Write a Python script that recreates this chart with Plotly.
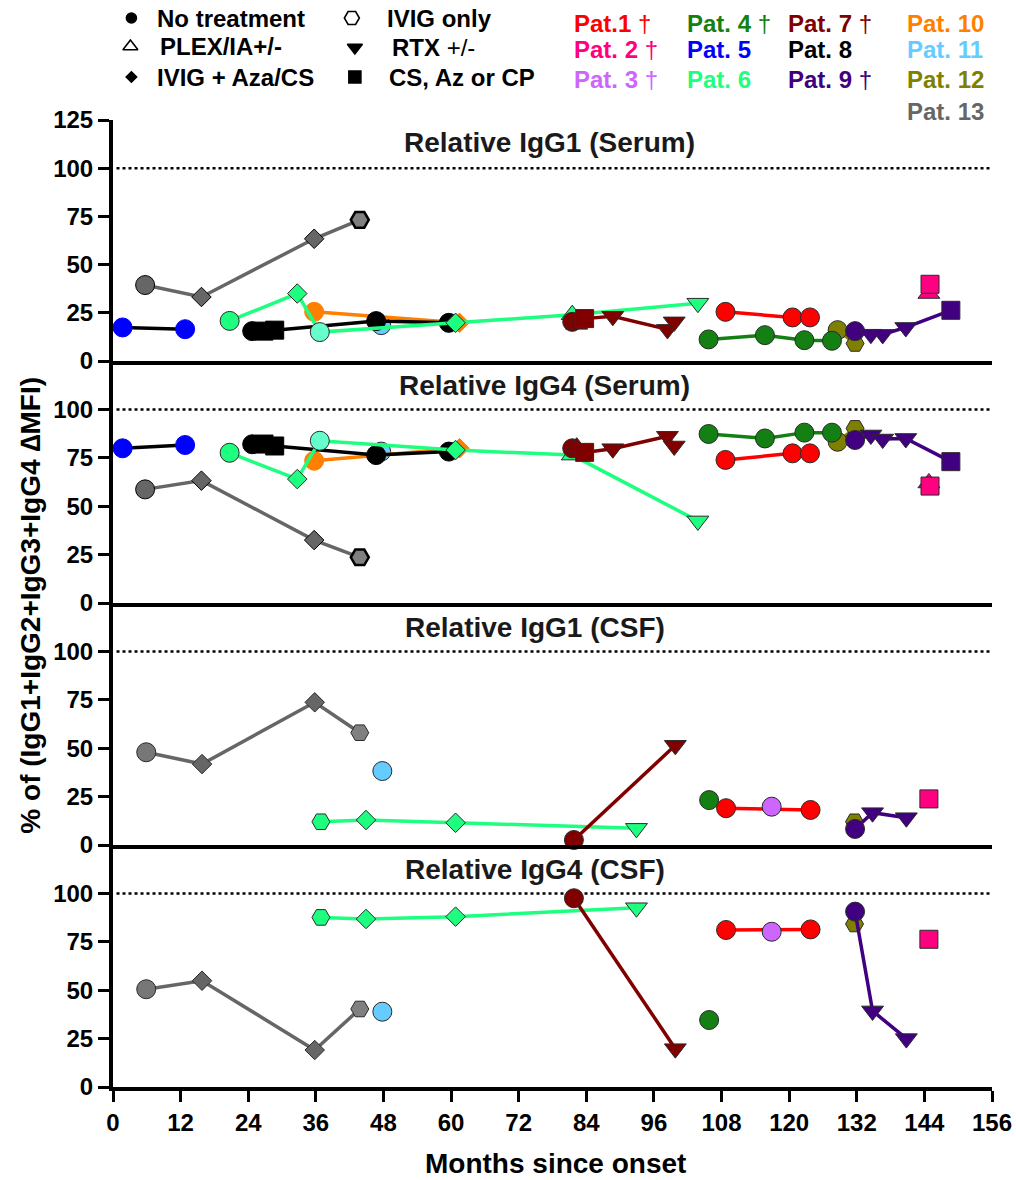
import plotly.graph_objects as go

# ---------------- data ----------------
X_TICKS = list(range(0, 157, 12))
Y_TICKS_TOP = [0, 25, 50, 75, 100, 125]
Y_TICKS = [0, 25, 50, 75, 100]
PANEL_TITLES = ["Relative IgG1 (Serum)", "Relative IgG4 (Serum)",
                "Relative IgG1 (CSF)", "Relative IgG4 (CSF)"]

PATIENT_IDS = [1, 2, 3, 4, 5, 6, 7, 8, 9, 10, 11, 12, 13]
PATIENT_NAMES = ["Pat.1", "Pat. 2", "Pat. 3", "Pat. 4", "Pat. 5", "Pat. 6", "Pat. 7",
                 "Pat. 8", "Pat. 9", "Pat. 10", "Pat. 11", "Pat. 12", "Pat. 13"]
PATIENT_DECEASED = [True, True, True, True, False, False, True, False, True,
                    False, False, False, False]
PATIENT_COLORS = ["#FF0000", "#FF0080", "#CC66FF", "#148014", "#0000FF", "#1EFF80",
                  "#800000", "#000000", "#400080", "#FF8000", "#66CCFF", "#808000",
                  "#666666"]

TREATMENTS = ["none", "plex", "ivig_aza", "ivig", "rtx", "cs"]
TREATMENT_LABELS = ["No treatment", "PLEX/IA+/-", "IVIG + Aza/CS", "IVIG only",
                    "<b>RTX</b> +/-", "CS, Az or CP"]

# serum samples (months since onset, treatment, %IgG1, %IgG4)
P1_SERUM_MONTHS = [108.7, 120.6, 123.7]
P1_SERUM_TX = ["none", "none", "none"]
P1_SERUM_IGG1 = [25.5, 22.6, 22.6]
P1_SERUM_IGG4 = [73.9, 77.3, 77.3]
P2_SERUM_MONTHS = [144.8, 145.0]
P2_SERUM_TX = ["plex", "cs"]
P2_SERUM_IGG1 = [35.0, 39.8]
P2_SERUM_IGG4 = [62.0, 60.4]
P4_SERUM_MONTHS = [105.7, 115.7, 122.7, 127.6]
P4_SERUM_TX = ["none", "none", "none", "none"]
P4_SERUM_IGG1 = [11.2, 13.4, 10.8, 10.5]
P4_SERUM_IGG4 = [87.3, 85.0, 88.0, 88.0]
P5_SERUM_MONTHS = [1.7, 12.8]
P5_SERUM_TX = ["none", "none"]
P5_SERUM_IGG1 = [17.4, 16.5]
P5_SERUM_IGG4 = [79.9, 81.6]
P6_SERUM_MONTHS = [20.7, 32.7, 36.7, 60.8, 81.5, 103.8]
P6_SERUM_TX = ["none", "ivig_aza", "none", "ivig_aza", "plex", "rtx"]
P6_SERUM_IGG1 = [20.8, 35.0, 15.0, 19.8, 24.0, 30.0]
P6_SERUM_IGG4 = [77.6, 64.0, 83.8, 79.0, 76.4, 42.4]
P7_SERUM_MONTHS = [81.5, 82.3, 83.7, 88.7, 98.4, 99.6]
P7_SERUM_TX = ["none", "plex", "cs", "rtx", "rtx", "rtx"]
P7_SERUM_IGG1 = [20.3, 19.0, 22.0, 23.2, 16.4, 20.3]
P7_SERUM_IGG4 = [79.9, 80.5, 77.8, 79.7, 86.1, 81.1]
P8_SERUM_MONTHS = [24.7, 26.8, 28.7, 46.7, 59.6]
P8_SERUM_TX = ["none", "cs", "cs", "none", "none"]
P8_SERUM_IGG1 = [15.5, 15.5, 16.0, 20.7, 19.8]
P8_SERUM_IGG4 = [82.0, 82.1, 81.1, 76.4, 78.2]
P9_SERUM_MONTHS = [131.7, 134.5, 136.6, 140.7, 148.7]
P9_SERUM_TX = ["none", "rtx", "rtx", "rtx", "cs"]
P9_SERUM_IGG1 = [15.5, 13.9, 13.8, 17.4, 26.3]
P9_SERUM_IGG4 = [84.2, 86.8, 84.7, 85.0, 73.0]
P10_SERUM_MONTHS = [35.7, 61.5]
P10_SERUM_TX = ["none", "ivig_aza"]
P10_SERUM_IGG1 = [25.5, 19.8]
P10_SERUM_IGG4 = [73.5, 79.9]
P11_SERUM_MONTHS = [47.6]
P11_SERUM_TX = ["none"]
P11_SERUM_IGG1 = [18.6]
P11_SERUM_IGG4 = [78.2]
P12_SERUM_MONTHS = [128.6, 131.7]
P12_SERUM_TX = ["none", "ivig"]
P12_SERUM_IGG1 = [16.0, 9.1]
P12_SERUM_IGG4 = [83.3, 90.2]
P13_SERUM_MONTHS = [5.7, 15.7, 35.7, 43.8]
P13_SERUM_TX = ["none", "ivig_aza", "ivig_aza", "ivig"]
P13_SERUM_IGG1 = [39.4, 33.2, 63.4, 73.2]
P13_SERUM_IGG4 = [58.7, 63.2, 32.5, 23.6]

# CSF samples
P1_CSF_MONTHS = [108.8, 123.8]
P1_CSF_TX = ["none", "none"]
P1_CSF_IGG1 = [19.0, 18.1]
P1_CSF_IGG4 = [81.1, 81.4]
P2_CSF_MONTHS = [144.8]
P2_CSF_TX = ["cs"]
P2_CSF_IGG1 = [23.8]
P2_CSF_IGG4 = [76.3]
P3_CSF_MONTHS = [116.9]
P3_CSF_TX = ["none"]
P3_CSF_IGG1 = [19.8]
P3_CSF_IGG4 = [80.2]
P4_CSF_MONTHS = [105.8]
P4_CSF_TX = ["none"]
P4_CSF_IGG1 = [23.2]
P4_CSF_IGG4 = [34.6]
P6_CSF_MONTHS = [36.9, 44.9, 60.8, 92.9]
P6_CSF_TX = ["ivig", "ivig_aza", "ivig_aza", "rtx"]
P6_CSF_IGG1 = [12.0, 12.9, 11.5, 8.6]
P6_CSF_IGG4 = [87.6, 86.8, 88.0, 92.6]
P7_CSF_MONTHS = [81.8, 99.8]
P7_CSF_TX = ["none", "rtx"]
P7_CSF_IGG1 = [2.6, 51.5]
P7_CSF_IGG4 = [97.5, 19.8]
P9_CSF_MONTHS = [131.7, 134.8, 140.8]
P9_CSF_TX = ["none", "rtx", "rtx"]
P9_CSF_IGG1 = [8.3, 16.7, 14.1]
P9_CSF_IGG4 = [90.6, 39.3, 25.0]
P11_CSF_MONTHS = [47.8]
P11_CSF_TX = ["none"]
P11_CSF_IGG1 = [38.2]
P11_CSF_IGG4 = [38.9]
P12_CSF_MONTHS = [131.6]
P12_CSF_TX = ["ivig"]
P12_CSF_IGG1 = [12.0]
P12_CSF_IGG4 = [84.2]
P13_CSF_MONTHS = [5.9, 15.8, 35.8, 43.8]
P13_CSF_TX = ["none", "ivig_aza", "ivig_aza", "ivig"]
P13_CSF_IGG1 = [47.9, 41.8, 73.7, 58.0]
P13_CSF_IGG4 = [50.5, 54.9, 19.1, 40.3]

# ---------------- assemble ----------------
g = globals()
SERUM = {}
CSF = {}
for pid in PATIENT_IDS:
    k = f"P{pid}_SERUM_MONTHS"
    if k in g:
        SERUM[pid] = (g[k], g[f"P{pid}_SERUM_TX"], g[f"P{pid}_SERUM_IGG1"], g[f"P{pid}_SERUM_IGG4"])
    k = f"P{pid}_CSF_MONTHS"
    if k in g:
        CSF[pid] = (g[k], g[f"P{pid}_CSF_TX"], g[f"P{pid}_CSF_IGG1"], g[f"P{pid}_CSF_IGG4"])

# styles
SYMBOL_OF = {"none": "circle", "plex": "triangle-up", "ivig_aza": "diamond",
             "ivig": "hexagon2", "rtx": "triangle-down", "cs": "square"}
SIZE_OF = {"circle": 19, "triangle-up": 19, "diamond": 15, "hexagon2": 18,
           "triangle-down": 19, "square": 18}
LINE_COLOR_OVERRIDE = {5: "#000000"}
NO_OUTLINE = {5, 10, 8}
FILL_OVERRIDE = {(6, "serum", 2): "#66FFCC", (13, "serum", 3): "#808080",
                 (13, "csf", 3): "#808080", (13, "csf", 0): "#777777"}
OUTLINE_WIDTH_OVERRIDE = {(13, "serum", 3): 2.5}
DRAW_ORDER = [13, 11, 10, 5, 8, 6, 7, 12, 4, 1, 3, 9, 2]

FONT = "Liberation Sans, Arial, Helvetica, sans-serif"
H_PLOT = 1087.0
PANEL_PX = [(120, 361), (361, 603), (603, 845), (845, 1087)]
L, R = 113.3, 991.7


def ax(n):
    return "" if n == 1 else str(n)


def py2paper(py):
    return (H_PLOT - py) / H_PLOT


def px2paper(px):
    return (px - L) / (R - L)


fig = go.Figure()

for panel in range(1, 5):
    source = SERUM if panel <= 2 else CSF
    kind = "serum" if panel <= 2 else "csf"
    vidx = 2 if panel in (1, 3) else 3
    for pid in DRAW_ORDER:
        if pid not in source:
            continue
        rec = source[pid]
        months, tx, vals = rec[0], rec[1], rec[vidx]
        base = PATIENT_COLORS[pid - 1]
        syms = [SYMBOL_OF[t] for t in tx]
        sizes = [SIZE_OF[s] for s in syms]
        fills = [FILL_OVERRIDE.get((pid, kind, i), base) for i in range(len(tx))]
        olw = [OUTLINE_WIDTH_OVERRIDE.get((pid, kind, i), 1) for i in range(len(tx))]
        olc = base if pid in NO_OUTLINE else "#2a2a2a"
        if (pid, kind, 3) in OUTLINE_WIDTH_OVERRIDE:
            olc = "#000000"
        fig.add_trace(go.Scatter(
            x=months, y=vals, mode="lines+markers",
            xaxis=f"x{ax(panel)}", yaxis=f"y{ax(panel)}",
            line=dict(color=LINE_COLOR_OVERRIDE.get(pid, base), width=3.5),
            marker=dict(symbol=syms, size=sizes, color=fills, opacity=1,
                        line=dict(color=olc, width=olw)),
            cliponaxis=False, hoverinfo="x+y", name=PATIENT_NAMES[pid - 1]))

# legend (symbols) drawn on a hidden pixel-scaled axis in the top band
LEG_SYMBOLS = ["circle", "triangle-up-open", "diamond", "hexagon2-open", "triangle-down", "square"]
LEG_SIZES = [10, 13, 8, 15, 13, 12]
LEG_SYM_X = [131.7, 130.7, 131.7, 352.0, 355.0, 355.0]
LEG_SYM_Y = [18.0, 46.5, 77.0, 18.0, 47.5, 77.0]
LEG_TXT_X = [155, 158, 155, 385, 390, 387]
fig.add_trace(go.Scatter(
    x=LEG_SYM_X, y=LEG_SYM_Y, mode="markers", xaxis="x5", yaxis="y5",
    marker=dict(symbol=LEG_SYMBOLS, size=LEG_SIZES, color="black", opacity=1,
                line=dict(color="black", width=1.6)),
    hoverinfo="skip", cliponaxis=False))

layout = dict(
    width=1016, height=1180,
    margin=dict(l=113, r=24, t=0, b=93, autoexpand=False),
    plot_bgcolor="white", paper_bgcolor="white", showlegend=False,
    font=dict(family=FONT, color="black"),
)
for panel in range(1, 5):
    top, bot = PANEL_PX[panel - 1]
    layout[f"xaxis{ax(panel)}"] = dict(
        domain=[0, 1], range=[0, 156], anchor=f"y{ax(panel)}",
        showline=True, linewidth=4, linecolor="black", mirror=False,
        showgrid=False, zeroline=False,
        ticks="outside" if panel == 4 else "", tickvals=X_TICKS,
        showticklabels=(panel == 4), ticklen=11, tickwidth=3, tickcolor="black",
        tickfont=dict(size=24, family=FONT, weight="bold", color="black"),
        fixedrange=True)
    layout[f"yaxis{ax(panel)}"] = dict(
        domain=[py2paper(bot), py2paper(top)], range=[0, 125], anchor=f"x{ax(panel)}",
        showline=True, linewidth=4, linecolor="black",
        showgrid=False, zeroline=False, ticks="outside",
        tickvals=Y_TICKS_TOP if panel == 1 else Y_TICKS,
        ticklen=11, tickwidth=3, tickcolor="black",
        tickfont=dict(size=24, family=FONT, weight="bold", color="black"),
        fixedrange=True)
layout["xaxis5"] = dict(domain=[0, 1], range=[L, R], anchor="y5", visible=False, fixedrange=True)
layout["yaxis5"] = dict(domain=[py2paper(120), 1], range=[120, 0], anchor="x5", visible=False, fixedrange=True)

shapes = []
for panel in range(1, 5):
    shapes.append(dict(type="line", xref=f"x{ax(panel)} domain", yref=f"y{ax(panel)}",
                       x0=0.004, x1=1, y0=100, y1=100,
                       line=dict(color="black", width=2.5, dash="dot"), layer="below"))
layout["shapes"] = shapes

ann = []
TITLE_PX = [(550, 143), (545, 385), (535, 627), (535, 869)]
for (tx, ty), t in zip(TITLE_PX, PANEL_TITLES):
    ann.append(dict(text=f"<b>{t}</b>", xref="paper", yref="paper",
                    x=px2paper(tx), y=py2paper(ty), xanchor="center", yanchor="middle",
                    showarrow=False, font=dict(size=28, family=FONT, color="#1a1a1a")))
ann.append(dict(text="<b>Months since onset</b>", xref="paper", yref="paper",
                x=px2paper(555), y=py2paper(1163), xanchor="center", yanchor="middle",
                showarrow=False, font=dict(size=28, family=FONT)))
ann.append(dict(text="<b>% of (IgG1+IgG2+IgG3+IgG4 \u2206MFI)</b>", xref="paper", yref="paper",
                x=px2paper(30), y=py2paper(605), xanchor="center", yanchor="middle",
                textangle=-90, showarrow=False, font=dict(size=28, family=FONT)))
for lbl, lx, ly in zip(TREATMENT_LABELS, LEG_TXT_X, LEG_SYM_Y):
    text = lbl if "<b>" in lbl else f"<b>{lbl}</b>"
    ann.append(dict(text=text, xref="x5", yref="y5", x=lx, y=ly,
                    xanchor="left", yanchor="middle", showarrow=False,
                    font=dict(size=24, family=FONT, color="black")))
PAT_COL_X = [572, 685, 786, 905]
PAT_ROW_Y = [23, 49, 79, 111]
for i, (name, dead, col) in enumerate(zip(PATIENT_NAMES, PATIENT_DECEASED, PATIENT_COLORS)):
    c = min(i // 3, 3)
    r = i - 3 * c
    text = f"<b>{name}</b>" + (" \u2020" if dead else "")
    ann.append(dict(text=text, xref="x5", yref="y5", x=PAT_COL_X[c], y=PAT_ROW_Y[r],
                    xanchor="left", yanchor="middle", showarrow=False,
                    font=dict(size=24, family=FONT, color=col)))
layout["annotations"] = ann

fig.update_layout(**layout)
fig.write_html(
    "out.html",
    config={"displayModeBar": False},
    post_script="document.body.style.margin='0';document.documentElement.style.overflow='hidden';",
)
